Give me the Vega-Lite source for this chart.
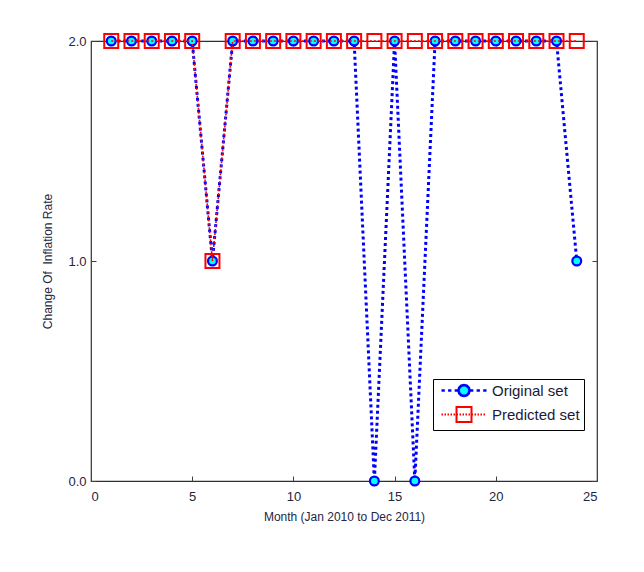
{
  "$schema": "https://vega.github.io/schema/vega-lite/v6.json",
  "autosize": {"type": "none"},
  "width": 506,
  "height": 440,
  "padding": {"left": 91, "top": 41, "right": 47, "bottom": 91},
  "background": "white",
  "config": {
    "view": {"stroke": "#303030", "strokeWidth": 1.2},
    "font": "Liberation Sans",
    "axis": {
      "labelFont": "Liberation Sans", "labelFontSize": 13, "labelColor": "#262640",
      "titleFont": "Liberation Sans", "titleFontSize": 12, "titleFontWeight": "normal", "titleColor": "#262640",
      "domainColor": "#404040", "domainWidth": 1.5, "tickColor": "#404040", "tickWidth": 1,
      "grid": false
    },
    "legend": {
      "title": null, "orient": "none", "legendX": 342, "legendY": 338,
      "fillColor": "white", "strokeColor": "#000000", "padding": 4,
      "symbolSize": 256, "labelOffset": 40, "rowPadding": 1,
      "labelFont": "Liberation Sans", "labelFontSize": 15, "labelColor": "#1a1a3a"
    }
  },
  "data": {
    "values": [
      {"month": 1, "value": 2, "series": "Original set"},
      {"month": 2, "value": 2, "series": "Original set"},
      {"month": 3, "value": 2, "series": "Original set"},
      {"month": 4, "value": 2, "series": "Original set"},
      {"month": 5, "value": 2, "series": "Original set"},
      {"month": 6, "value": 1, "series": "Original set"},
      {"month": 7, "value": 2, "series": "Original set"},
      {"month": 8, "value": 2, "series": "Original set"},
      {"month": 9, "value": 2, "series": "Original set"},
      {"month": 10, "value": 2, "series": "Original set"},
      {"month": 11, "value": 2, "series": "Original set"},
      {"month": 12, "value": 2, "series": "Original set"},
      {"month": 13, "value": 2, "series": "Original set"},
      {"month": 14, "value": 0, "series": "Original set"},
      {"month": 15, "value": 2, "series": "Original set"},
      {"month": 16, "value": 0, "series": "Original set"},
      {"month": 17, "value": 2, "series": "Original set"},
      {"month": 18, "value": 2, "series": "Original set"},
      {"month": 19, "value": 2, "series": "Original set"},
      {"month": 20, "value": 2, "series": "Original set"},
      {"month": 21, "value": 2, "series": "Original set"},
      {"month": 22, "value": 2, "series": "Original set"},
      {"month": 23, "value": 2, "series": "Original set"},
      {"month": 24, "value": 1, "series": "Original set"},
      {"month": 1, "value": 2, "series": "Predicted set"},
      {"month": 2, "value": 2, "series": "Predicted set"},
      {"month": 3, "value": 2, "series": "Predicted set"},
      {"month": 4, "value": 2, "series": "Predicted set"},
      {"month": 5, "value": 2, "series": "Predicted set"},
      {"month": 6, "value": 1, "series": "Predicted set"},
      {"month": 7, "value": 2, "series": "Predicted set"},
      {"month": 8, "value": 2, "series": "Predicted set"},
      {"month": 9, "value": 2, "series": "Predicted set"},
      {"month": 10, "value": 2, "series": "Predicted set"},
      {"month": 11, "value": 2, "series": "Predicted set"},
      {"month": 12, "value": 2, "series": "Predicted set"},
      {"month": 13, "value": 2, "series": "Predicted set"},
      {"month": 14, "value": 2, "series": "Predicted set"},
      {"month": 15, "value": 2, "series": "Predicted set"},
      {"month": 16, "value": 2, "series": "Predicted set"},
      {"month": 17, "value": 2, "series": "Predicted set"},
      {"month": 18, "value": 2, "series": "Predicted set"},
      {"month": 19, "value": 2, "series": "Predicted set"},
      {"month": 20, "value": 2, "series": "Predicted set"},
      {"month": 21, "value": 2, "series": "Predicted set"},
      {"month": 22, "value": 2, "series": "Predicted set"},
      {"month": 23, "value": 2, "series": "Predicted set"},
      {"month": 24, "value": 2, "series": "Predicted set"}
    ]
  },
  "encoding": {
    "stroke": {"field": "series", "type": "nominal", "scale": {"domain": ["Original set", "Predicted set"], "range": ["#0000ff", "#ff0000"]},
      "legend": {
        "encode": {
          "legend": {"update": {"strokeWidth": {"value": 1}}},
          "symbols": {"update": {
            "shape": {"signal": "datum.value === 'Original set' ? 'M-0.375,0L0.0375,0M0.45,0L0.8625,0M1.275,0L1.6875,0M3.1875,0L3.6,0M4.0125,0L4.425,0M4.8375,0L5.25,0M3.125,0L3.0329,0.3438L2.7813,0.5954L2.4375,0.6875L2.0938,0.5954L1.8421,0.3438L1.75,0L1.8421,-0.3438L2.0938,-0.5954L2.4375,-0.6875L2.7813,-0.5954L3.0329,-0.3438Z' : 'M-0.375,0L-0.1875,0M0,0L0.1875,0M0.375,0L0.5625,0M0.75,0L0.9375,0M1.125,0L1.3125,0M1.5,0L1.6875,0M1.875,0L2.0625,0M2.25,0L2.4375,0M2.625,0L2.8125,0M3,0L3.1875,0M3.375,0L3.5625,0M3.75,0L3.9375,0M4.125,0L4.3125,0M4.5,0L4.6875,0M4.875,0L5.0625,0M1.5,-0.9375L3.375,-0.9375L3.375,0.9375L1.5,0.9375Z'"},
            "strokeWidth": {"signal": "datum.value === 'Original set' ? 2.6 : 2"},
            "fill": {"signal": "datum.value === 'Original set' ? '#00ffff' : 'transparent'"},
            "opacity": {"value": 1}
          }}
        }
      }
    }
  },
  "layer": [
    {
      "transform": [{"filter": "datum.series === 'Original set'"}],
      "mark": {"type": "line", "strokeDash": [3, 3], "strokeWidth": 3, "clip": false},
      "encoding": {
        "x": {"field": "month", "type": "quantitative", "scale": {"domain": [0, 25], "nice": false},
              "axis": {"values": [0, 5, 10, 15, 20, 25], "title": "Month (Jan 2010 to Dec 2011)", "tickSize": -5, "labelPadding": 14, "titlePadding": 8, "domain": false}},
        "y": {"field": "value", "type": "quantitative", "scale": {"domain": [0, 2], "nice": false},
              "axis": {"values": [0, 1, 2], "format": ".1f", "title": "Change Of\u00a0 Inflation Rate", "tickSize": -5, "labelPadding": 10, "titlePadding": 13, "domain": false}}
      }
    },
    {
      "transform": [{"filter": "datum.series === 'Original set'"}],
      "mark": {"type": "point", "shape": "circle", "size": 78, "strokeWidth": 2.2, "opacity": 1, "fill": "#00ffff", "filled": false, "clip": false},
      "encoding": {
        "x": {"field": "month", "type": "quantitative", "axis": null},
        "y": {"field": "value", "type": "quantitative", "axis": null}
      }
    },
    {
      "transform": [{"filter": "datum.series === 'Predicted set'"}],
      "mark": {"type": "line", "strokeDash": [2, 2], "strokeWidth": 1.6, "clip": false},
      "encoding": {
        "x": {"field": "month", "type": "quantitative", "axis": {"orient": "top", "values": [0, 5, 10, 15, 20, 25], "labels": false, "title": null, "tickSize": -5, "domain": false}},
        "y": {"field": "value", "type": "quantitative", "axis": {"orient": "right", "values": [0, 1, 2], "labels": false, "title": null, "tickSize": -5, "domain": false}}
      }
    },
    {
      "transform": [{"filter": "datum.series === 'Predicted set'"}],
      "mark": {"type": "point", "shape": "square", "size": 196, "strokeWidth": 2, "opacity": 1, "filled": false, "clip": false},
      "encoding": {
        "x": {"field": "month", "type": "quantitative", "axis": null},
        "y": {"field": "value", "type": "quantitative", "axis": null}
      }
    }
  ],
  "resolve": {"axis": {"x": "independent", "y": "independent"}}
}
